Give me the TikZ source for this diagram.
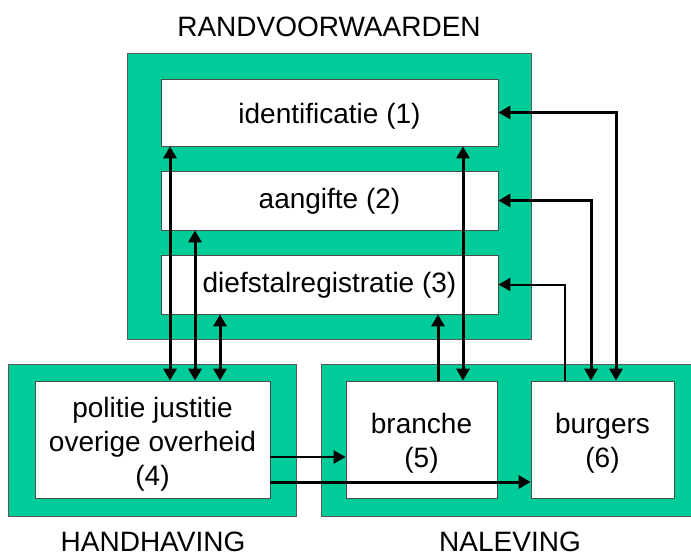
\documentclass[tikz,border=0pt]{standalone}
\usepackage{fontspec}
\setmainfont{Liberation Sans}
\usetikzlibrary{arrows.meta}
\definecolor{panelgreen}{RGB}{0,204,153}
\tikzset{
  panel/.style={fill=panelgreen, draw=black!65, line width=0.8pt},
  unit/.style={fill=white, draw=black!70, line width=0.8pt, inner sep=0pt},
  boxtext/.style={inner sep=0pt, align=center, anchor=base,
    font=\fontsize{28}{34}\selectfont},
  title/.style={font=\fontsize{28}{34}\selectfont, inner sep=0pt, anchor=base},
  link/.style={line width=3pt, -{Triangle[length=12pt,width=13pt]}},
  duo/.style={line width=3pt, {Triangle[length=12pt,width=13pt]}-{Triangle[length=12pt,width=13pt]}},
  thinlink/.style={line width=2pt, -{Triangle[length=12pt,width=13pt]}},
}
\begin{document}
\begin{tikzpicture}[x=1pt,y=-1pt]
\useasboundingbox (0,0) rectangle (691,558);

% green panels
\fill[panel] (127,53) rectangle (531,339);
\fill[panel] (8,364) rectangle (296,516);
\fill[panel] (321,364) rectangle (705,516);

% panel titles
\node[title] (trand) at (329,36) {RANDVOORWAARDEN};
\node[title] (thand) at (153,551) {HANDHAVING};
\node[title] (tnal) at (510,551) {NALEVING};

% boxes
\node[unit, minimum width=337pt, minimum height=67pt] (id) at (329.5,112.5) {};
\node[unit, minimum width=337pt, minimum height=59pt] (aang) at (329.5,200.5) {};
\node[unit, minimum width=337pt, minimum height=59pt] (dief) at (329.5,284.5) {};
\node[unit, minimum width=235pt, minimum height=117pt] (pol) at (152.5,439.5) {};
\node[unit, minimum width=151pt, minimum height=117pt] (bra) at (421.5,439.5) {};
\node[unit, minimum width=143pt, minimum height=117pt] (bur) at (602.5,439.5) {};

% box texts, placed on the baseline of their last line
\node[boxtext] (idt) at (id.center |- 0,123) {identificatie (1)};
\node[boxtext] (aangt) at (aang.center |- 0,208) {aangifte (2)};
\node[boxtext] (dieft) at (dief.center |- 0,292) {diefstalregistratie (3)};
\node[boxtext] (polt) at (pol.center |- 0,485) {politie justitie\\overige overheid\\(4)};
\node[boxtext] (brat) at (bra.center |- 0,467) {branche\\(5)};
\node[boxtext] (burt) at (bur.center |- 0,467) {burgers\\(6)};

% handhaving <-> randvoorwaarden
\draw[duo] (170,0 |- pol.north) -- (170,0 |- id.south);
\draw[duo] (195,0 |- pol.north) -- (195,0 |- aang.south);
\draw[duo] (220,0 |- pol.north) -- (220,0 |- dief.south);

% branche <-> randvoorwaarden
\draw[link] (438,0 |- bra.north) -- (438,0 |- dief.south);
\draw[duo] (463,0 |- bra.north) -- (463,0 |- id.south);

% burgers <-> randvoorwaarden
\draw[duo] (616,0 |- bur.north) |- (id.east);
\draw[duo] (591,0 |- bur.north) |- (aang.east);
\draw[thinlink] (565,0 |- bur.north) |- (dief.east);

% handhaving -> naleving
\draw[thinlink] (pol.east |- 0,457) -- (bra.west |- 0,457);
\draw[link] (pol.east |- 0,482) -- (bur.west |- 0,482);
\end{tikzpicture}
\end{document}
